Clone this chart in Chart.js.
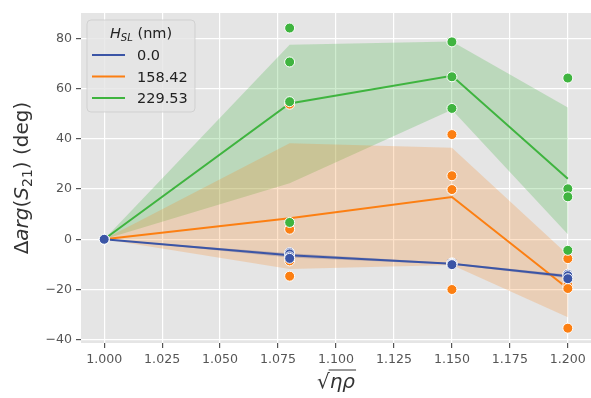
<!doctype html>
<html lang="en">
<head>
  <meta charset="utf-8" />
  <title>Phase shift vs sqrt(eta rho)</title>
  <script src="https://cdn.jsdelivr.net/npm/chart.js"></script>
  <style>
    html, body { margin: 0; padding: 0; background: #fff; }
    #wrap { width: 591px; height: 398px; position: relative; }
  </style>
</head>
<body>
  <div id="wrap"><canvas id="phaseChart"></canvas></div>

<script>
  // sample positions on the x axis (sqrt(eta*rho))
  const xValues = [1.0, 1.08, 1.15, 1.2];
  const seriesLabels = ['0.0', '158.42', '229.53'];
  const seriesColors = ['#3b55a6', '#fc7f12', '#3fb43f'];
  const bandColors = ['rgba(59,85,166,0.3)', 'rgba(252,127,18,0.22)', 'rgba(63,180,63,0.25)'];

  // individual runs, one list per x position
  const blueSamples = [[0], [-5.3, -5.8, -7.0, -7.6], [-9.4, -9.6, -9.9, -10.1], [-13.9, -14.5, -15.7]];
  const orangeSamples = [[0], [53.8, 4.0, -8.6, -14.7], [41.7, 25.3, 19.8, -20.0], [-7.7, -18.4, -19.6, -35.4]];
  const greenSamples = [[0], [84.1, 70.6, 54.8, 6.7], [78.6, 64.7, 52.1], [64.2, 20.1, 16.9, -4.4]];

  // mean line and confidence band
  const blueMean = [0, -6.4, -9.7, -14.7];
  const blueLow = [0, -7.3, -10.0, -15.5];
  const blueHigh = [0, -5.6, -9.4, -14.0];
  const orangeMean = [0, 8.4, 16.8, -19.6];
  const orangeLow = [0, -11.8, -10.2, -31.0];
  const orangeHigh = [0, 38.2, 36.4, -6.2];
  const greenMean = [0, 54.1, 65.1, 24.1];
  const greenLow = [0, 22.3, 51.6, 2.0];
  const greenHigh = [0, 77.5, 78.8, 52.5];

  const xTicks = [1.000, 1.025, 1.050, 1.075, 1.100, 1.125, 1.150, 1.175, 1.200];
  const yTicks = [-40, -20, 0, 20, 40, 60, 80];

  const samples = [blueSamples, orangeSamples, greenSamples];
  const means = [blueMean, orangeMean, greenMean];
  const lows = [blueLow, orangeLow, greenLow];
  const highs = [blueHigh, orangeHigh, greenHigh];

  const toXY = arr => arr.map((v, i) => ({ x: xValues[i], y: v }));

  const datasets = [];
  // bands first (bottom)
  [1, 2, 0].forEach(s => {
    datasets.push({
      type: 'line', data: toXY(lows[s]), borderWidth: 0, pointRadius: 0,
      fill: false, order: 10, tension: 0
    });
    datasets.push({
      type: 'line', data: toXY(highs[s]), borderWidth: 0, pointRadius: 0,
      fill: '-1', backgroundColor: bandColors[s], order: 10, tension: 0
    });
  });
  // mean lines
  [0, 1, 2].forEach(s => {
    datasets.push({
      type: 'line', data: toXY(means[s]), borderColor: seriesColors[s],
      borderWidth: 2, pointRadius: 0, fill: false, order: 5, tension: 0
    });
  });
  // sample markers (blue on top, then green, then orange)
  const markerOrder = [1, 3, 2];
  [0, 1, 2].forEach(s => {
    const pts = [];
    samples[s].forEach((list, i) => list.forEach(v => pts.push({ x: xValues[i], y: v })));
    datasets.push({
      type: 'scatter', data: pts, backgroundColor: seriesColors[s],
      borderColor: '#ffffff', borderWidth: 1, pointRadius: 5, pointHoverRadius: 5,
      order: markerOrder[s]
    });
  });

  const minus = v => (v < 0 ? '\u2212' + Math.abs(v) : String(v));

  // grey panel behind the plot
  const panelBg = {
    id: 'panelBg',
    beforeDraw(chart) {
      const { ctx, chartArea: a } = chart;
      ctx.save();
      ctx.fillStyle = '#e5e5e5';
      ctx.fillRect(a.left, a.top, a.right - a.left, a.bottom - a.top);
      ctx.restore();
    }
  };

  // axis titles and legend with mixed italic text
  const labelsAndLegend = {
    id: 'labelsAndLegend',
    afterDraw(chart) {
      const { ctx, chartArea: a } = chart;
      const fam = '"DejaVu Sans", sans-serif';
      const drawRuns = (runs, x, y) => {
        let cx = x;
        runs.forEach(r => {
          ctx.font = r.f;
          ctx.fillText(r.t, cx, y + (r.dy || 0));
          cx += ctx.measureText(r.t).width;
        });
        return cx;
      };
      const runsWidth = runs => runs.reduce((w, r) => { ctx.font = r.f; return w + ctx.measureText(r.t).width; }, 0);

      ctx.save();
      ctx.fillStyle = '#333';
      ctx.textBaseline = 'alphabetic';

      // y title
      const ys = 20, it = 'italic ' + ys + 'px ' + fam, up = ys + 'px ' + fam, sub = (ys * 0.7) + 'px ' + fam;
      const yRuns = [
        { t: '\u0394', f: up }, { t: 'arg', f: it }, { t: '(', f: up }, { t: 'S', f: it },
        { t: '21', f: sub, dy: 4 }, { t: ')', f: up }, { t: ' (deg)', f: up }
      ];
      ctx.translate(28, (a.top + a.bottom) / 2);
      ctx.rotate(-Math.PI / 2);
      drawRuns(yRuns, -runsWidth(yRuns) / 2, 0);
      ctx.setTransform(1, 0, 0, 1, 0, 0);

      // x title: sqrt(eta rho)
      const xs = 20;
      const rad = { t: '\u221A', f: xs + 'px ' + fam };
      const body = { t: '\u03B7\u03C1', f: 'italic ' + xs + 'px ' + fam };
      const w = runsWidth([rad, body]);
      const x0 = (a.left + a.right) / 2 - w / 2, base = 388;
      const bx = drawRuns([rad], x0, base);
      const ex = drawRuns([body], bx, base);
      ctx.strokeStyle = '#333';
      ctx.lineWidth = 1;
      ctx.beginPath();
      ctx.moveTo(bx - 1, base - 18);
      ctx.lineTo(ex + 1, base - 18);
      ctx.stroke();

      // legend box
      const lx = 87, ly = 20, lw = 108, lh = 92, r = 4;
      ctx.beginPath();
      ctx.moveTo(lx + r, ly);
      ctx.arcTo(lx + lw, ly, lx + lw, ly + lh, r);
      ctx.arcTo(lx + lw, ly + lh, lx, ly + lh, r);
      ctx.arcTo(lx, ly + lh, lx, ly, r);
      ctx.arcTo(lx, ly, lx + lw, ly, r);
      ctx.closePath();
      ctx.fillStyle = 'rgba(229,229,229,0.8)';
      ctx.fill();
      ctx.strokeStyle = 'rgba(204,204,204,0.8)';
      ctx.stroke();

      ctx.fillStyle = '#222';
      const ls = 14.5;
      const tRuns = [
        { t: 'H', f: 'italic ' + ls + 'px ' + fam },
        { t: 'SL', f: 'italic ' + (ls * 0.7) + 'px ' + fam, dy: 3 },
        { t: ' (nm)', f: ls + 'px ' + fam }
      ];
      drawRuns(tRuns, lx + lw / 2 - runsWidth(tRuns) / 2, 38);
      seriesLabels.forEach((lab, i) => {
        const yy = 55 + i * 21.5;
        ctx.strokeStyle = seriesColors[i];
        ctx.lineWidth = 2;
        ctx.beginPath();
        ctx.moveTo(92, yy);
        ctx.lineTo(125, yy);
        ctx.stroke();
        ctx.font = ls + 'px ' + fam;
        ctx.fillText(lab, 137, yy + 5);
      });
      ctx.restore();
    }
  };

  const tickFont = { family: '"DejaVu Sans", sans-serif', size: 12.6 };

  new Chart(document.getElementById('phaseChart'), {
    data: { datasets: datasets },
    options: {
      responsive: true,
      maintainAspectRatio: false,
      animation: false,
      layout: { autoPadding: false, padding: { top: 13, right: 0, left: 0, bottom: 0 } },
      plugins: { legend: { display: false }, tooltip: { enabled: false } },
      scales: {
        x: {
          type: 'linear', min: 0.99, max: 1.21,
          border: { display: false },
          grid: { color: '#ffffff', lineWidth: 1.2, tickColor: '#555', tickLength: 5 },
          ticks: { color: '#555', font: tickFont, padding: 4, maxRotation: 0, autoSkip: false,
                   callback: v => Number(v).toFixed(3) },
          afterBuildTicks: s => { s.ticks = xTicks.map(v => ({ value: v })); },
          afterFit: s => { s.height = 55; s.paddingLeft = 0; s.paddingRight = 0; }
        },
        y: {
          type: 'linear', min: -41.3, max: 90.1,
          border: { display: false },
          grid: { color: '#ffffff', lineWidth: 1.2, tickColor: '#555', tickLength: 5 },
          ticks: { color: '#555', font: tickFont, padding: 4, callback: v => minus(v) },
          afterBuildTicks: s => { s.ticks = yTicks.map(v => ({ value: v })); },
          afterFit: s => { s.width = 81; s.paddingTop = 0; s.paddingBottom = 0; }
        }
      }
    },
    plugins: [panelBg, labelsAndLegend]
  });
</script>
</body>
</html>
